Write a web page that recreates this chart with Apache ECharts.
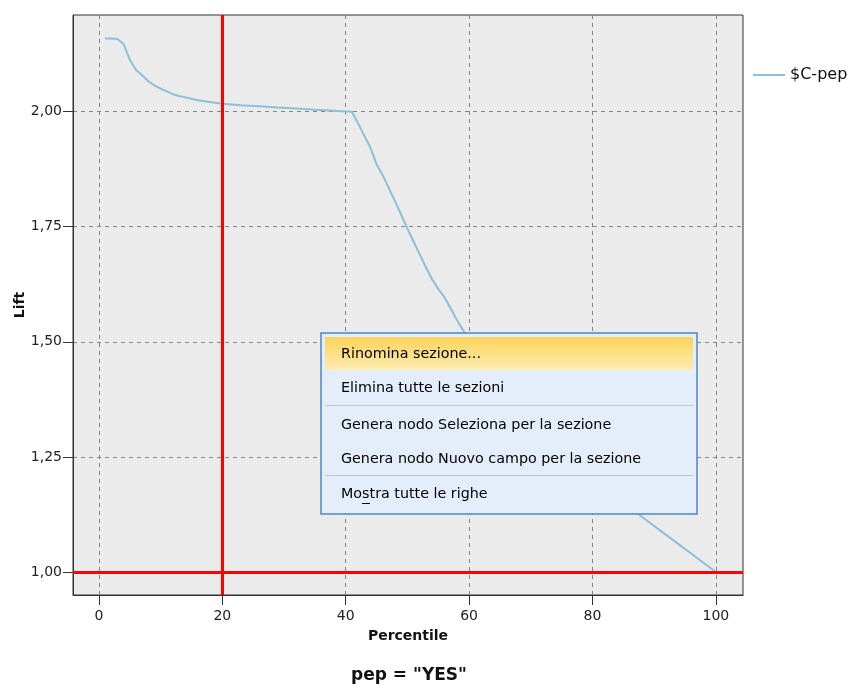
<!DOCTYPE html>
<html>
<head>
<meta charset="utf-8">
<script src="https://cdn.jsdelivr.net/npm/echarts@6/dist/echarts.min.js"></script>
<style>
html,body{margin:0;padding:0;background:#ffffff;}
#main{width:851px;height:690px;}
</style>
</head>
<body>
<div id="main"></div>
<script>
// ---- data ----
var percentile = [1,2,3,4,5,6,7,8,9,10,11,12,13,14,15,16,18,20,23,26,29,32,35,38,41,
  42,43,44,45,46,47,48,49,50,51,52,53,54,55,56,57,58,59,60,
  62,64,66,68,70,72,74,76,78,80,82,84,86,88,90,92,94,96,98,100];
var lift = [2.159,2.159,2.158,2.147,2.113,2.091,2.079,2.066,2.057,2.050,2.044,2.038,2.034,2.031,2.028,2.025,2.021,2.017,2.014,2.012,2.009,2.007,2.004,2.002,2.000,
  1.975,1.948,1.922,1.886,1.862,1.834,1.805,1.776,1.746,1.718,1.690,1.662,1.636,1.615,1.597,1.573,1.548,1.526,1.507,
  1.479,1.451,1.423,1.394,1.366,1.338,1.310,1.282,1.253,1.225,1.197,1.169,1.143,1.120,1.100,1.080,1.060,1.040,1.020,1.000];
var xTicks = [0,20,40,60,80,100];
var yTicks = [1.00,1.25,1.50,1.75,2.00];
var seriesName = '$C-pep';
var xName = 'Percentile';
var yName = 'Lift';
var chartTitle = 'pep = "YES"';
var refX = 20;      // vertical red reference line
var refY = 1.00;    // horizontal red reference line
var menuItems = ['Rinomina sezione...','Elimina tutte le sezioni','Genera nodo Seleziona per la sezione','Genera nodo Nuovo campo per la sezione','Mostra tutte le righe'];

var chart = echarts.init(document.getElementById('main'), null, {renderer:'canvas'});
var FONT = 'DejaVu Sans';
var MF = '14.3px "DejaVu Sans"';

var menuGroup = {
  type:'group', x:321, y:333, z:100,
  children:[
    {type:'rect', z:100, shape:{x:0,y:0,width:376,height:181}, style:{fill:'#e4eefa', stroke:'#4a86cf', lineWidth:1.5}},
    {type:'rect', z:101, shape:{x:4,y:4,width:368,height:33},
      style:{fill:new echarts.graphic.LinearGradient(0,0,0,1,[{offset:0,color:'#fcd45a'},{offset:1,color:'#fdebb2'}])}},
    {type:'line', z:101, shape:{x1:4,y1:72.5,x2:372,y2:72.5}, style:{stroke:'#c4c4c4', lineWidth:1}},
    {type:'line', z:101, shape:{x1:4,y1:142.5,x2:372,y2:142.5}, style:{stroke:'#c4c4c4', lineWidth:1}},
    {type:'text', z:102, x:20, y:21, style:{text:menuItems[0], font:MF, fill:'#000', verticalAlign:'middle'}},
    {type:'text', z:102, x:20, y:55, style:{text:menuItems[1], font:MF, fill:'#000', verticalAlign:'middle'}},
    {type:'text', z:102, x:20, y:92, style:{text:menuItems[2], font:MF, fill:'#000', verticalAlign:'middle'}},
    {type:'text', z:102, x:20, y:126, style:{text:menuItems[3], font:MF, fill:'#000', verticalAlign:'middle'}},
    {type:'text', z:102, x:20, y:161, style:{text:menuItems[4], font:MF, fill:'#000', verticalAlign:'middle'}},
    {type:'line', z:102, shape:{x1:41,y1:170.5,x2:49,y2:170.5}, style:{stroke:'#000', lineWidth:1}}
  ]
};

var option = {
  animation:false,
  backgroundColor:'#ffffff',
  textStyle:{fontFamily:FONT},
  grid:{left:73, top:15, width:670, height:580, show:true, backgroundColor:'#ebebeb', borderColor:'#333', borderWidth:1, containLabel:false, outerBoundsMode:'none'},
  legend:{
    left:748, top:62, orient:'vertical', icon:'rect', itemWidth:32, itemHeight:2, itemGap:5,
    textStyle:{fontFamily:FONT, fontSize:16, color:'#111'},
    data:[seriesName]
  },
  xAxis:{
    type:'value', min:-4.2, max:104.4,
    name:xName, nameLocation:'middle', nameGap:34, nameMoveOverlap:false,
    nameTextStyle:{fontFamily:FONT, fontWeight:'bold', fontSize:14, color:'#111'},
    axisLine:{show:true, onZero:false, lineStyle:{color:'#333', width:1}},
    axisTick:{show:true, length:10, customValues:xTicks, lineStyle:{color:'#333'}},
    axisLabel:{customValues:xTicks, fontFamily:FONT, fontSize:14, color:'#222', margin:14},
    splitLine:{show:true, lineStyle:{color:'#858585', type:[4,4], width:1}}
  },
  yAxis:{
    type:'value', min:0.95, max:2.21,
    name:yName, nameLocation:'middle', nameGap:46, nameRotate:90, nameMoveOverlap:false,
    nameTextStyle:{fontFamily:FONT, fontWeight:'bold', fontSize:14, color:'#111'},
    axisLine:{show:true, onZero:false, lineStyle:{color:'#333', width:1}},
    axisTick:{show:true, length:10, customValues:yTicks, lineStyle:{color:'#333'}},
    axisLabel:{customValues:yTicks, fontFamily:FONT, fontSize:14, color:'#222', margin:11,
      formatter:function(v){return v.toFixed(2).replace('.',',');}},
    splitLine:{show:true, lineStyle:{color:'#858585', type:[4,4], width:1}}
  },
  series:[{
    name:seriesName, type:'line', showSymbol:false, symbol:'none', z:2,
    data:percentile.map(function(p,i){return [p, lift[i]];}),
    lineStyle:{color:'#8cbfd8', width:2}, itemStyle:{color:'#8cbfd8'},
    markLine:{
      silent:true, symbol:'none', label:{show:false},
      lineStyle:{color:'#ff0000', width:3, type:'solid'},
      data:[{xAxis:refX},{yAxis:refY}]
    }
  }],
  graphic:[
    {type:'text', x:409, y:676, z:50, style:{text:chartTitle, font:'bold 17px "DejaVu Sans"', fill:'#111', align:'center', verticalAlign:'middle'}},
    menuGroup
  ]
};
chart.setOption(option);
</script>
</body>
</html>
